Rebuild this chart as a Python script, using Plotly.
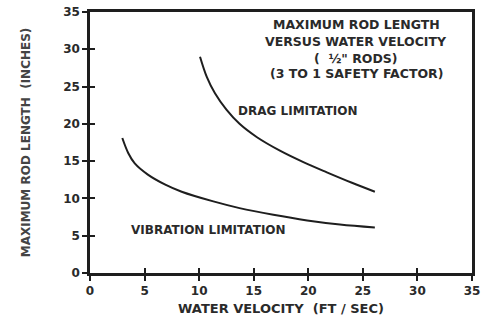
import plotly.graph_objects as go

# Data
drag_v = [10.08, 10.7, 11.45, 12.5, 13.7, 15.3, 17.4, 19.5, 21.7, 24.0, 26.1]
drag_L = [29.0, 26.3, 24.1, 21.9, 20.0, 18.2, 16.4, 14.9, 13.5, 12.1, 10.9]

vib_v = [2.96, 3.5, 4.1, 5.3, 6.9, 8.4, 11.3, 13.7, 16.8, 19.9, 22.9, 26.1]
vib_L = [18.1, 16.1, 14.7, 13.2, 11.85, 10.9, 9.6, 8.7, 7.8, 7.05, 6.5, 6.1]

tick_vals = [0, 5, 10, 15, 20, 25, 30, 35]
title_lines = ["MAXIMUM ROD LENGTH", "VERSUS WATER VELOCITY", "(  ½\" RODS)", "(3 TO 1 SAFETY FACTOR)"]
title_levels = [33.3, 31.0, 28.8, 26.8]

FONT = "DejaVu Sans"
INK = "#1e1e1e"
TXT = "#2a2a2a"

fig = go.Figure()
for xs, ys in [(drag_v, drag_L), (vib_v, vib_L)]:
    fig.add_trace(go.Scatter(x=xs, y=ys, mode="lines",
                             line=dict(color=INK, width=2, shape="spline", smoothing=1.0),
                             showlegend=False, hoverinfo="skip"))
# dummy traces so the overlay axes (inner half of crossing ticks) are drawn
fig.add_trace(go.Scatter(x=[0], y=[0], mode="lines", xaxis="x2", yaxis="y",
                         showlegend=False, hoverinfo="skip"))
fig.add_trace(go.Scatter(x=[0], y=[0], mode="lines", xaxis="x", yaxis="y2",
                         showlegend=False, hoverinfo="skip"))

axis_common = dict(range=[0, 35], tickvals=tick_vals, showgrid=False, zeroline=False,
                   showline=True, linecolor=INK, linewidth=2.5, mirror=True,
                   ticks="outside", ticklen=5, tickwidth=1.5, tickcolor=INK,
                   automargin=False,
                   tickfont=dict(family=FONT, size=12, color=TXT, weight="bold"))
overlay_common = dict(range=[0, 35], tickvals=tick_vals, showgrid=False, zeroline=False,
                      showline=False, ticks="inside", ticklen=5, tickwidth=1.5,
                      tickcolor=INK, showticklabels=False, automargin=False)

fig.update_layout(
    width=500, height=323,
    margin=dict(l=90, r=28, t=12, b=50, autoexpand=False),
    paper_bgcolor="white", plot_bgcolor="white",
    xaxis=dict(**axis_common,
               title=dict(text="WATER VELOCITY  (FT / SEC)", standoff=7,
                          font=dict(family=FONT, size=13, color=TXT, weight="bold"))),
    yaxis=dict(**axis_common,
               title=dict(text="MAXIMUM ROD LENGTH  (INCHES)", standoff=30,
                          font=dict(family=FONT, size=12, color="#444444", weight="bold"))),
    xaxis2=dict(**overlay_common, overlaying="x", anchor="y", side="bottom"),
    yaxis2=dict(**overlay_common, overlaying="y", anchor="x", side="left"),
)

for txt, yy in zip(title_lines, title_levels):
    fig.add_annotation(x=24.4, y=yy, text=txt, showarrow=False, xanchor="center", yanchor="middle",
                       font=dict(family=FONT, size=12.5, color=TXT, weight="bold"))

fig.add_annotation(x=19.1, y=21.7, text="DRAG LIMITATION", showarrow=False,
                   font=dict(family=FONT, size=12, color=TXT, weight="bold"))
fig.add_annotation(x=10.9, y=5.8, text="VIBRATION LIMITATION", showarrow=False,
                   font=dict(family=FONT, size=12, color=TXT, weight="bold"))

fig.write_html("out.html")
